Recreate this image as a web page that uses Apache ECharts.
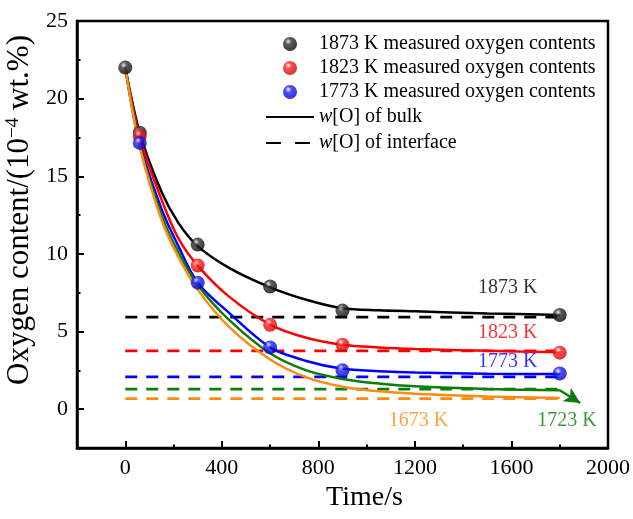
<!DOCTYPE html>
<html>
<head>
    <meta charset="utf-8">
    <title>Oxygen content vs time</title>
    <script type="text/javascript" src="https://cdn.jsdelivr.net/npm/echarts@6/dist/echarts.min.js"></script>
    <style>
        html, body { margin: 0; padding: 0; background: #fff; }
        #container { width: 633px; height: 519px; }
    </style>
</head>
<body>
<div id="container"></div>
<script type="text/javascript">
    // 数据: 实测点
    var t1873 = [0, 60, 300, 600, 900, 1800];
    var o1873 = [22, 17.8, 10.6, 7.9, 6.35, 6.07];
    var t1823 = [60, 300, 600, 900, 1800];
    var o1823 = [17.6, 9.25, 5.43, 4.15, 3.64];
    var t1773 = [60, 300, 600, 900, 1800];
    var o1773 = [17.15, 8.15, 3.98, 2.5, 2.3];

    // 拟合曲线 (bulk)
    var tFit = [0, 60, 150, 220, 300, 430, 600, 750, 900, 1050, 1200, 1500, 1800];
    var bulk1873 = [22, 17.8, 14.0, 12.0, 10.5, 9.1, 7.85, 7.05, 6.5, 6.37, 6.3, 6.17, 6.07];
    var bulk1823 = [22, 17.5, 13.5, 11.0, 9.25, 7.25, 5.45, 4.6, 4.15, 3.98, 3.88, 3.76, 3.67];
    var bulk1773 = [22, 17.1, 12.9, 10.5, 8.15, 6.2, 3.98, 3.1, 2.6, 2.45, 2.36, 2.28, 2.26];
    var bulk1723 = [22, 17.0, 12.5, 10.1, 8.0, 5.75, 3.6, 2.5, 1.95, 1.65, 1.47, 1.3, 1.22];
    var bulk1673 = [22, 16.9, 12.2, 9.8, 7.7, 5.3, 3.2, 2.05, 1.45, 1.15, 1.0, 0.82, 0.72];

    // 界面氧含量 (水平虚线)
    var tIface = [0, 1800];
    var iface = { '1873': 5.93, '1823': 3.75, '1773': 2.08, '1723': 1.29, '1673': 0.68 };

    // 坐标轴刻度
    var xLabels = [0, 400, 800, 1200, 1600, 2000];
    var xMinor = [200, 600, 1000, 1400, 1800];
    var yLabels = [0, 5, 10, 15, 20, 25];
    var yMinor = [2.5, 7.5, 12.5, 17.5, 22.5];

    // 温度标注
    var tempNames = ['1873 K', '1823 K', '1773 K', '1673 K', '1723 K'];
    var tempAt = [[1585, 7.8], [1585, 4.95], [1585, 3.07], [1215, -0.72], [1830, -0.72]];
    var arrow1723 = [[1800, 1.22], [1885, 0.4]];

    var FONT = 'Liberation Serif';
    var C = {
        '1873': '#000000', '1823': '#ff0000', '1773': '#0000ff',
        '1723': '#0c7d0c', '1673': '#ff8a12'
    };

    function zip(xs, ys) {
        var out = [];
        for (var i = 0; i < xs.length; i++) out.push([xs[i], ys[i]]);
        return out;
    }
    function ball(light, mid, dark) {
        return {
            type: 'radial', x: 0.38, y: 0.32, r: 0.75,
            colorStops: [
                { offset: 0, color: light },
                { offset: 0.3, color: mid },
                { offset: 1, color: dark }
            ]
        };
    }
    function bulkLine(name, data, color) {
        return {
            name: name, type: 'line', data: zip(tFit, data),
            smooth: 0.3, showSymbol: false, symbol: 'none',
            lineStyle: { color: color, width: 2.5 }, z: 3, silent: true
        };
    }
    function ifaceLine(key) {
        return {
            name: 'iface' + key, type: 'line',
            data: zip(tIface, [iface[key], iface[key]]),
            showSymbol: false, symbol: 'none',
            lineStyle: { color: C[key], width: 2.8, type: [12, 9] }, z: 2, silent: true
        };
    }
    function dots(name, xs, ys, fill) {
        return {
            name: name, type: 'scatter', data: zip(xs, ys),
            symbolSize: 14, itemStyle: { color: fill }, z: 5
        };
    }
    function plain(v) { return String(v); }

    var tempColors = [C['1873'], C['1823'], C['1773'], C['1673'], C['1723']];
    var tempData = [];
    for (var i = 0; i < tempNames.length; i++) {
        tempData.push({
            name: tempNames[i], value: tempAt[i],
            label: { color: tempColors[i] }
        });
    }

    var legendNames = [
        '1873 K measured oxygen contents',
        '1823 K measured oxygen contents',
        '1773 K measured oxygen contents',
        'bulk', 'interface'
    ];

    var dom = document.getElementById('container');
    var myChart = echarts.init(dom, null, { renderer: 'canvas' });

    var axisCommon = {
        axisLine: { show: true, onZero: false, lineStyle: { color: '#000', width: 2.5 } },
        splitLine: { show: false }
    };
    var hidden = 'rgba(0,0,0,0)';

    var option = {
        animation: false,
        backgroundColor: '#fff',
        grid: {
            left: 77, right: 25, top: 21, bottom: 71,
            outerBoundsMode: 'none', containLabel: false,
            show: true, borderColor: '#000', borderWidth: 2.5
        },
        legend: {
            data: legendNames,
            orient: 'vertical',
            left: 265, top: 34, padding: 0,
            itemWidth: 48, itemHeight: 14, itemGap: 4, itemTextGap: 5,
            textStyle: {
                fontFamily: FONT, fontSize: 20, color: '#000', lineHeight: 20,
                rich: {
                    i: { fontFamily: FONT, fontSize: 20, fontStyle: 'italic', color: '#000', lineHeight: 22 },
                    n: { fontFamily: FONT, fontSize: 20, color: '#000', lineHeight: 22 }
                }
            },
            formatter: function (name) {
                if (name === 'bulk') return '{i|w}{n|[O] of bulk}';
                if (name === 'interface') return '{i|w}{n|[O] of interface}';
                return name;
            }
        },
        xAxis: [
            Object.assign({}, axisCommon, {
                type: 'value', min: -200, max: 2000,
                name: 'Time/s', nameLocation: 'middle', nameGap: 32,
                nameTextStyle: { fontFamily: FONT, fontSize: 28, color: '#000', padding: [0, 0, 0, 44] },
                axisTick: { show: true, inside: true, length: 7, customValues: xLabels,
                    lineStyle: { color: '#000', width: 2 } },
                axisLabel: { fontFamily: FONT, fontSize: 22, color: '#000', margin: 9,
                    customValues: xLabels, formatter: plain }
            }),
            {
                type: 'value', min: -200, max: 2000, position: 'bottom',
                axisLine: { show: false, onZero: false }, splitLine: { show: false },
                axisLabel: { show: false },
                axisTick: { show: true, inside: true, length: 3.5, customValues: xMinor,
                    lineStyle: { color: '#000', width: 2 } }
            }
        ],
        yAxis: [
            Object.assign({}, axisCommon, {
                type: 'value', min: -2.5, max: 25,
                name: 'Oxygen content/(10{sup|\u22124} wt.%)',
                nameLocation: 'middle', nameGap: 31,
                nameTextStyle: {
                    fontFamily: FONT, fontSize: 31, color: '#000', padding: [0, 0, 0, 49],
                    rich: { sup: { fontFamily: FONT, fontSize: 19, color: '#000', verticalAlign: 'bottom', padding: [0, 0, 13, 0] } }
                },
                axisTick: { show: true, inside: true, length: 7, customValues: yLabels,
                    lineStyle: { color: '#000', width: 2 } },
                axisLabel: { fontFamily: FONT, fontSize: 22, color: '#000', margin: 9,
                    customValues: yLabels, formatter: plain }
            }),
            {
                type: 'value', min: -2.5, max: 25, position: 'left',
                axisLine: { show: false, onZero: false }, splitLine: { show: false },
                axisLabel: { show: false },
                axisTick: { show: true, inside: true, length: 3.5, customValues: yMinor,
                    lineStyle: { color: '#000', width: 2 } }
            }
        ],
        series: [
            ifaceLine('1873'), ifaceLine('1823'), ifaceLine('1773'), ifaceLine('1723'), ifaceLine('1673'),
            bulkLine('fit1873', bulk1873, C['1873']),
            bulkLine('fit1823', bulk1823, C['1823']),
            bulkLine('fit1773', bulk1773, C['1773']),
            Object.assign(bulkLine('fit1723', bulk1723, C['1723']), {
                markLine: {
                    silent: true, symbol: ['none', 'arrow'], symbolSize: [12, 16],
                    lineStyle: { color: C['1723'], width: 2.5, type: 'solid' },
                    label: { show: false },
                    data: [[{ coord: arrow1723[0] }, { coord: arrow1723[1] }]]
                }
            }),
            bulkLine('fit1673', bulk1673, C['1673']),
            dots('1873 K measured oxygen contents', t1873, o1873, ball('#e0e0e0', '#333333', '#000000')),
            dots('1823 K measured oxygen contents', t1823, o1823, ball('#ffffff', '#ff2020', '#c00000')),
            dots('1773 K measured oxygen contents', t1773, o1773, ball('#ffffff', '#2020ff', '#0000b0')),
            { name: 'bulk', type: 'line', data: [], symbol: 'none',
              itemStyle: { color: hidden, borderColor: hidden }, lineStyle: { color: '#000', width: 2.5 } },
            { name: 'interface', type: 'line', data: [], symbol: 'none',
              itemStyle: { color: hidden, borderColor: hidden }, lineStyle: { color: '#000', width: 2.5, type: [15, 14] } },
            {
                name: 'temps', type: 'scatter', data: tempData, symbolSize: 0, silent: true,
                label: {
                    show: true, position: 'inside', formatter: '{b}',
                    fontFamily: FONT, fontSize: 20
                }
            }
        ]
    };

    myChart.setOption(option);
    window.addEventListener('resize', myChart.resize);
</script>
</body>
</html>
